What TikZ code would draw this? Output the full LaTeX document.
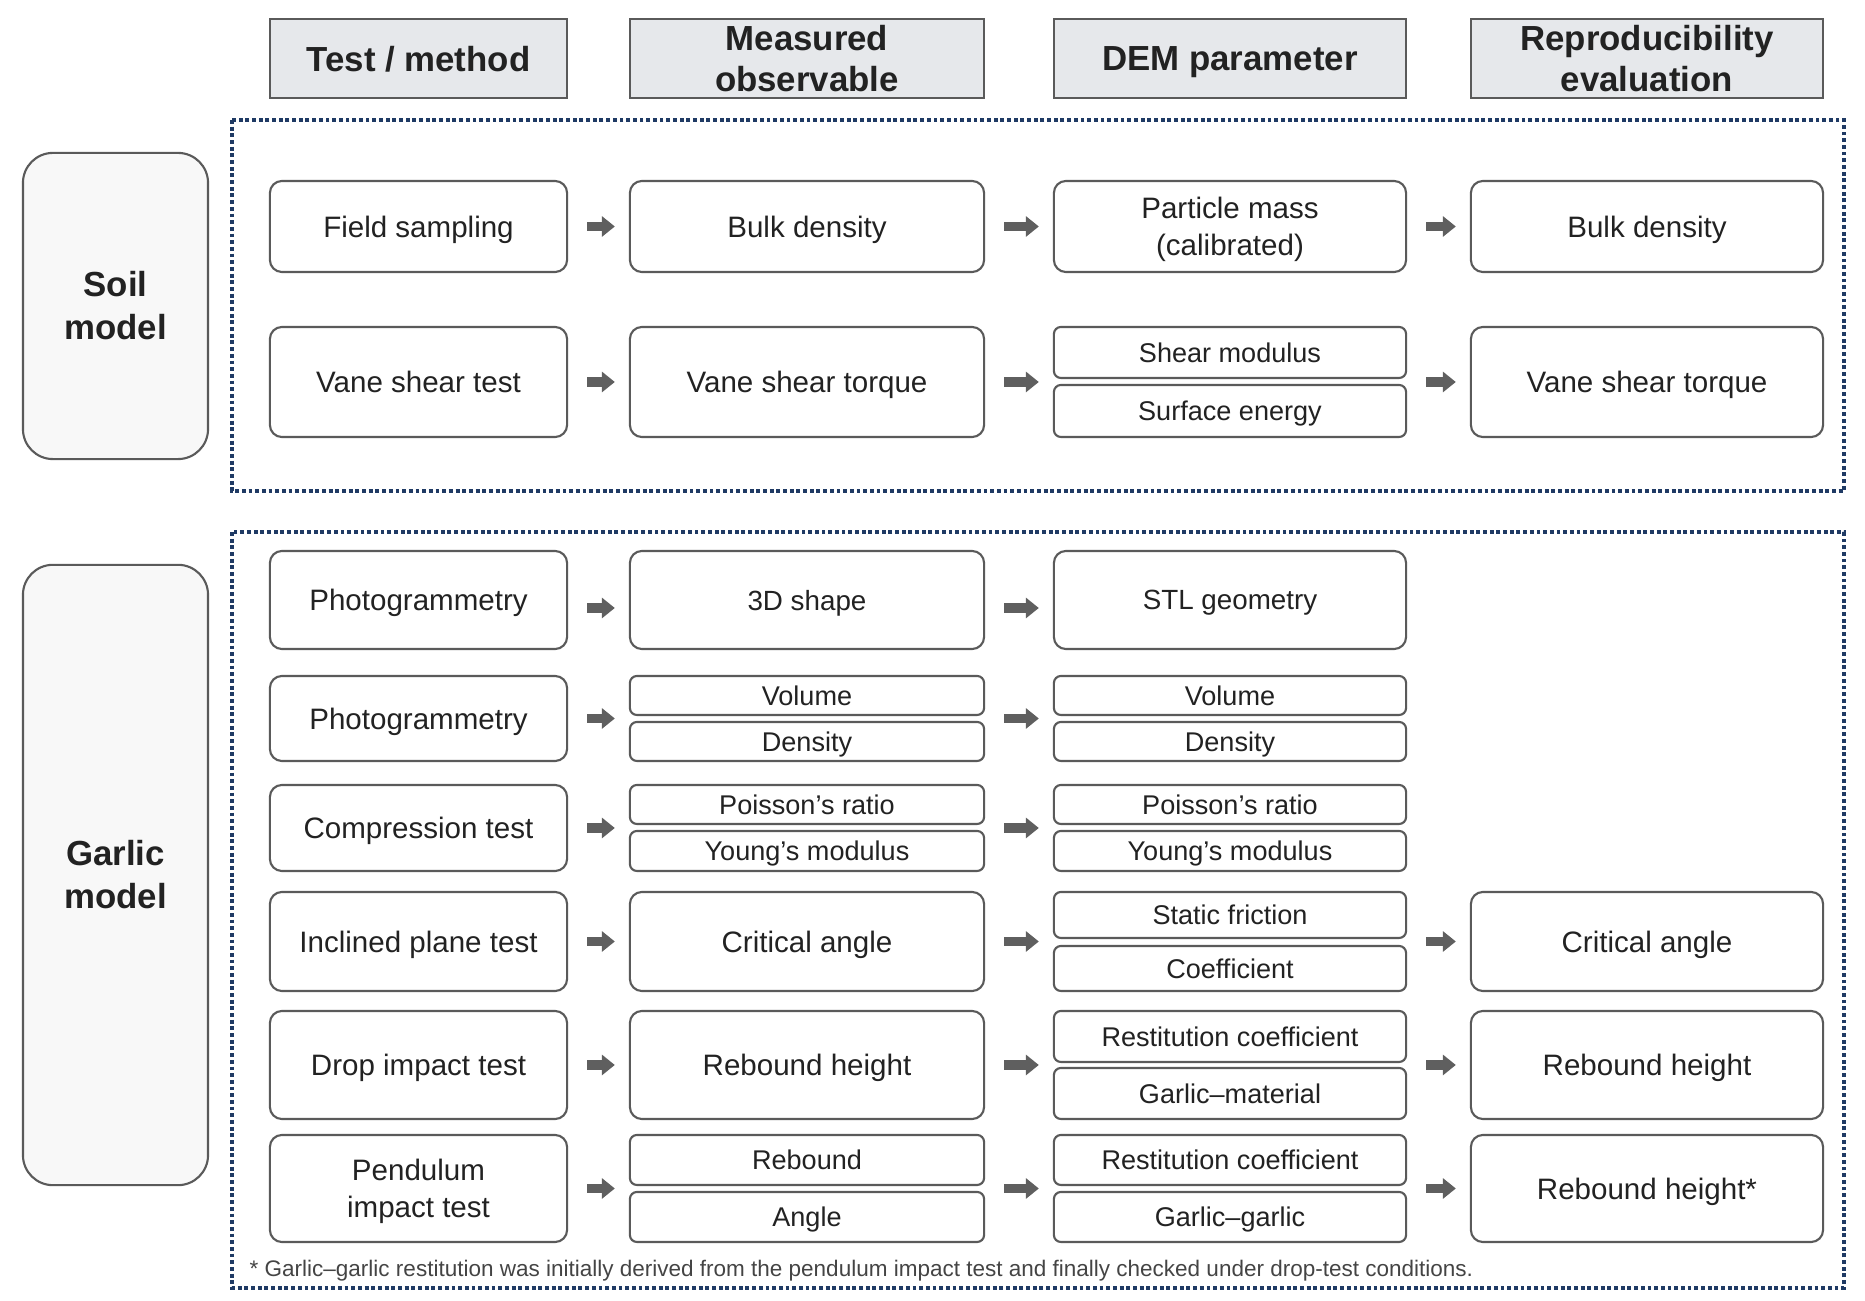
\documentclass[tikz,border=0pt]{standalone}
\usepackage{fontspec}
\setmainfont{Liberation Sans}
\usepackage{xcolor}
\usetikzlibrary{arrows.meta}
\definecolor{linegray}{HTML}{5A5A5A}
\definecolor{headfill}{HTML}{E6E8EB}
\definecolor{sidefill}{HTML}{F8F8F8}
\definecolor{framenavy}{HTML}{1F3A64}
\definecolor{arrowgray}{HTML}{5F5F5F}
\definecolor{inkgray}{HTML}{222222}
\definecolor{notegray}{HTML}{444444}
\tikzset{
	cell/.style={
		draw=linegray,
		line width=0.6pt,
		rounded corners=0.12cm,
		fill=white,
		text=inkgray,
		inner sep=0pt,
		text depth=0pt,
		align=center,
		font=\fontsize{8.4}{10.6}\selectfont
	},
	subcell/.style={cell,rounded corners=0.07cm,font=\fontsize{7.7}{9}\selectfont},
	header/.style={
		draw=linegray,
		line width=0.6pt,
		fill=headfill,
		text=inkgray,
		inner sep=0pt,
		text depth=0pt,
		align=center,
		minimum height=0.79cm,
		font=\fontsize{9.9}{11.8}\bfseries
	},
	model/.style={
		draw=linegray,
		line width=0.6pt,
		rounded corners=0.3cm,
		fill=sidefill,
		text=inkgray,
		inner sep=0pt,
		align=center,
		minimum width=1.85cm,
		font=\fontsize{9.9}{12.2}\bfseries
	},
	frame/.style={draw=framenavy,line width=1.1pt,dash pattern=on 1.1pt off 0.8pt},
	flow/.style={
		draw=arrowgray,
		line width=2.8pt,
		-{Triangle[length=0.13cm,width=0.2cm]},
		shorten <=0.19cm,
		shorten >=0.14cm
	}
}

\begin{document}
\begin{tikzpicture}[x=0.01cm,y=-0.01cm,
	c1/.style={minimum width=2.97cm},c2/.style={minimum width=3.54cm},
	c3/.style={minimum width=3.52cm},c4/.style={minimum width=3.52cm}]
	\useasboundingbox (0,0) rectangle (1865,1301);
	
	% column heads
	\node[header,c1] (hTest) at (418.5,58.5) {Test / method};
	\node[header,c2] (hObs) at (807,58.5) {Measured\\observable};
	\node[header,c3] (hDem) at (1230,58.5) {DEM parameter};
	\node[header,c4] (hRep) at (1647,58.5) {Reproducibility\\evaluation};
	
	% model labels and frames
	\node[model,minimum height=3.06cm] (soil) at (115.5,306) {Soil\\model};
	\node[model,minimum height=6.2cm] (garlic) at (115.5,875) {Garlic\\model};
	\draw[frame] (232,120) rectangle (1844,491);
	\draw[frame] (232,532) rectangle (1844,1288);
	
	% soil model
	\node[cell,c1,minimum height=0.91cm] (sField) at (418.5,226.5) {Field sampling};
	\node[cell,c2,minimum height=0.91cm] (sBulk) at (807,226.5) {Bulk density};
	\node[cell,c3,minimum height=0.91cm] (sMass) at (1230,226.5) {Particle mass\\(calibrated)};
	\node[cell,c4,minimum height=0.91cm] (sBulkR) at (1647,226.5) {Bulk density};
	\draw[flow] (sField) -- (sBulk);
	\draw[flow] (sBulk) -- (sMass);
	\draw[flow] (sMass) -- (sBulkR);
	
	\node[cell,c1,minimum height=1.1cm] (sVane) at (418.5,382) {Vane shear test};
	\node[cell,c2,minimum height=1.1cm] (sTorq) at (807,382) {Vane shear torque};
	\node[subcell,c3,minimum height=0.51cm] (sShear) at (1230,352.5) {Shear modulus};
	\node[subcell,c3,minimum height=0.52cm] (sSurf) at (1230,411) {Surface energy};
	\node[cell,c4,minimum height=1.1cm] (sTorqR) at (1647,382) {Vane shear torque};
	\draw[flow] (sVane) -- (sTorq);
	\draw[flow] (sTorq) -- (sTorq -| sShear.west);
	\draw[flow] (sShear.east |- sTorqR) -- (sTorqR);
	
	% garlic model
	\node[cell,c1,minimum height=0.98cm] (gPhoto) at (418.5,600) {Photogrammetry};
	\node[cell,c2,minimum height=0.98cm,font=\fontsize{7.9}{9.5}\selectfont] (gShape) at (807,600) {3D shape};
	\node[cell,c3,minimum height=0.98cm,font=\fontsize{7.9}{9.5}\selectfont] (gStl) at (1230,600) {STL geometry};
	\draw[flow] ([yshift=-0.08cm]gPhoto.east) -- ([yshift=-0.08cm]gShape.west);
	\draw[flow] ([yshift=-0.08cm]gShape.east) -- ([yshift=-0.08cm]gStl.west);
	
	\node[cell,c1,minimum height=0.85cm] (gScan) at (418.5,718.5) {Photogrammetry};
	\node[subcell,c2,minimum height=0.39cm] (gVol) at (807,695.5) {Volume};
	\node[subcell,c2,minimum height=0.39cm] (gDen) at (807,741.5) {Density};
	\node[subcell,c3,minimum height=0.39cm] (gVolP) at (1230,695.5) {Volume};
	\node[subcell,c3,minimum height=0.39cm] (gDenP) at (1230,741.5) {Density};
	\draw[flow] (gScan) -- (gScan -| gVol.west);
	\draw[flow] (gVol.east |- gScan) -- (gScan -| gVolP.west);
	
	\node[cell,c1,minimum height=0.86cm] (gComp) at (418.5,828) {Compression test};
	\node[subcell,c2,minimum height=0.39cm] (gPois) at (807,804.5) {Poisson’s ratio};
	\node[subcell,c2,minimum height=0.40cm] (gYoung) at (807,851) {Young’s modulus};
	\node[subcell,c3,minimum height=0.39cm] (gPoisP) at (1230,804.5) {Poisson’s ratio};
	\node[subcell,c3,minimum height=0.40cm] (gYoungP) at (1230,851) {Young’s modulus};
	\draw[flow] (gComp) -- (gComp -| gPois.west);
	\draw[flow] (gPois.east |- gComp) -- (gComp -| gPoisP.west);
	
	\node[cell,c1,minimum height=0.99cm] (gIncl) at (418.5,941.5) {Inclined plane test};
	\node[cell,c2,minimum height=0.99cm] (gCrit) at (807,941.5) {Critical angle};
	\node[subcell,c3,minimum height=0.46cm] (gStat) at (1230,915) {Static friction};
	\node[subcell,c3,minimum height=0.45cm] (gCoef) at (1230,968.5) {Coefficient};
	\node[cell,c4,minimum height=0.99cm] (gCritR) at (1647,941.5) {Critical angle};
	\draw[flow] (gIncl) -- (gCrit);
	\draw[flow] (gCrit) -- (gCrit -| gStat.west);
	\draw[flow] (gStat.east |- gCritR) -- (gCritR);
	
	\node[cell,c1,minimum height=1.08cm] (gDrop) at (418.5,1065) {Drop impact test};
	\node[cell,c2,minimum height=1.08cm] (gReb) at (807,1065) {Rebound height};
	\node[subcell,c3,minimum height=0.51cm] (gRest) at (1230,1036.5) {Restitution coefficient};
	\node[subcell,c3,minimum height=0.51cm] (gMat) at (1230,1093.5) {Garlic–material};
	\node[cell,c4,minimum height=1.08cm] (gRebR) at (1647,1065) {Rebound height};
	\draw[flow] (gDrop) -- (gReb);
	\draw[flow] (gReb) -- (gReb -| gRest.west);
	\draw[flow] (gRest.east |- gRebR) -- (gRebR);
	
	\node[cell,c1,minimum height=1.07cm] (gPend) at (418.5,1188.5) {Pendulum\\impact test};
	\node[subcell,c2,minimum height=0.50cm] (gBounce) at (807,1160) {Rebound};
	\node[subcell,c2,minimum height=0.50cm] (gAngle) at (807,1217) {Angle};
	\node[subcell,c3,minimum height=0.50cm] (gRestP) at (1230,1160) {Restitution coefficient};
	\node[subcell,c3,minimum height=0.50cm] (gPair) at (1230,1217) {Garlic–garlic};
	\node[cell,c4,minimum height=1.07cm] (gRebS) at (1647,1188.5) {Rebound height*};
	\draw[flow] (gPend) -- (gPend -| gBounce.west);
	\draw[flow] (gBounce.east |- gPend) -- (gPend -| gRestP.west);
	\draw[flow] (gRestP.east |- gRebS) -- (gRebS);
	
	\node[anchor=west,inner sep=0pt,text=notegray,font=\fontsize{6.4}{7.7}\selectfont] (note) at (249,1271)
		{* Garlic–garlic restitution was initially derived from the pendulum impact test and finally checked under drop-test conditions.};
\end{tikzpicture}
\end{document}
